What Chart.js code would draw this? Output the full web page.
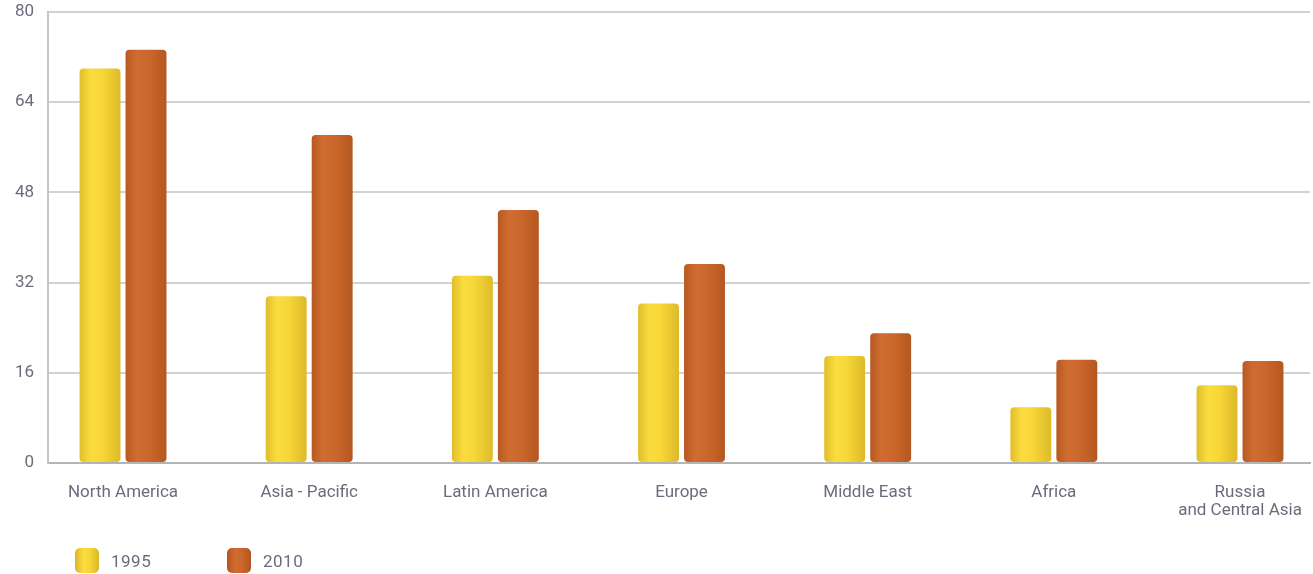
<!DOCTYPE html>
<html>
<head>
<meta charset="utf-8">
<script src="https://cdn.jsdelivr.net/npm/chart.js@4/dist/chart.umd.min.js"></script>
<style>
  html, body { margin: 0; padding: 0; background: #fff; }
  #wrap { position: relative; width: 1313px; height: 574px; }
  #legend { position: absolute; left: 75px; top: 547px; font: 17px Roboto, sans-serif; color: #6b6b7e; }
  .item { position: absolute; top: 0; white-space: nowrap; }
  .box { position: absolute; top: 1px; width: 24px; height: 25px; border-radius: 5px; }
  .txt { position: absolute; left: 36px; top: 4px; letter-spacing: 0.5px; }
</style>
</head>
<body>
<div id="wrap">
  <canvas id="chart" width="1313" height="574"></canvas>
  <div id="legend"></div>
</div>
<script>
// regions along the x axis
const regions = ["North America", "Asia - Pacific", "Latin America", "Europe", "Middle East", "Africa", ["Russia", "and Central Asia"]];
const seriesNames = ["1995", "2010"];
const values1995 = [70.0, 29.6, 33.2, 28.3, 19.0, 9.9, 13.8];
const values2010 = [73.3, 58.2, 44.9, 35.3, 23.0, 18.3, 18.1];
const yTicks = [0, 16, 32, 48, 64, 80];

const textColor = "#6b6b7e";
const catPct = 0.494;

// cylinder-ish shading across each bar
function barGradient(dark, light, mid) {
  return (ctx) => {
    const chart = ctx.chart;
    const x = chart.scales.x;
    if (!x || ctx.dataIndex === undefined) return light;
    const unit = Math.abs(x.getPixelForValue(1) - x.getPixelForValue(0));
    const slot = unit * catPct / 2;
    const c = x.getPixelForValue(ctx.dataIndex) + (ctx.datasetIndex === 0 ? -slot / 2 : slot / 2);
    if (!isFinite(c) || !isFinite(slot) || slot <= 0) return light;
    const g = chart.ctx.createLinearGradient(c - slot / 2, 0, c + slot / 2, 0);
    g.addColorStop(0, dark);
    g.addColorStop(0.3, light);
    g.addColorStop(0.55, mid);
    g.addColorStop(1, dark);
    return g;
  };
}

const colors = [
  { dark: "#d9b628", light: "#fbdc3e", mid: "#f7d638" },
  { dark: "#b2551f", light: "#d06c30", mid: "#cb672c" }
];

const datasets = [values1995, values2010].map((vals, s) => ({
  label: seriesNames[s],
  data: vals.map((v, i) => ({ x: i, y: v })),
  backgroundColor: barGradient(colors[s].dark, colors[s].light, colors[s].mid),
  borderRadius: 4,
  borderSkipped: false,
  categoryPercentage: catPct,
  barPercentage: 0.89
}));

new Chart(document.getElementById("chart"), {
  type: "bar",
  data: { datasets: datasets },
  options: {
    responsive: false,
    animation: false,
    layout: { padding: { top: 12, right: 3, bottom: 40, left: 0 } },
    plugins: { legend: { display: false }, tooltip: { enabled: false } },
    scales: {
      x: {
        type: "linear",
        offset: false,
        min: -0.403,
        max: 6.376,
        afterBuildTicks: (scale) => { scale.ticks = regions.map((_, i) => ({ value: i })); },
        afterFit: (scale) => {
          scale.height = 71;
          scale.paddingLeft = 0;
          scale.paddingRight = 0;
        },
        grid: { display: false },
        border: { display: true, color: "#b4b4b4", width: 2 },
        ticks: {
          autoSkip: false,
          maxRotation: 0,
          padding: 12,
          color: textColor,
          font: { family: "Roboto", size: 17, lineHeight: 1.1 },
          callback: (v) => regions[v]
        }
      },
      y: {
        min: 0,
        max: 80,
        afterBuildTicks: (scale) => { scale.ticks = yTicks.map((v) => ({ value: v })); },
        afterFit: (scale) => {
          scale.width = 48;
          scale.paddingTop = 0;
          scale.paddingBottom = 0;
        },
        grid: { color: "#d2d2d2", lineWidth: 2, drawTicks: false },
        border: { display: true, color: "#c4c4c4", width: 2 },
        ticks: {
          padding: 14,
          color: textColor,
          font: { family: "Roboto", size: 17 }
        }
      }
    }
  }
});

// legend built from the series
const legend = document.getElementById("legend");
seriesNames.forEach((name, s) => {
  const item = document.createElement("div");
  item.className = "item";
  item.style.left = (s * 152) + "px";
  const box = document.createElement("div");
  box.className = "box";
  box.style.background = "linear-gradient(90deg," + colors[s].dark + "," + colors[s].light + " 35%," + colors[s].mid + " 60%," + colors[s].dark + ")";
  const txt = document.createElement("span");
  txt.className = "txt";
  txt.textContent = name;
  item.appendChild(box);
  item.appendChild(txt);
  legend.appendChild(item);
});
</script>
</body>
</html>
